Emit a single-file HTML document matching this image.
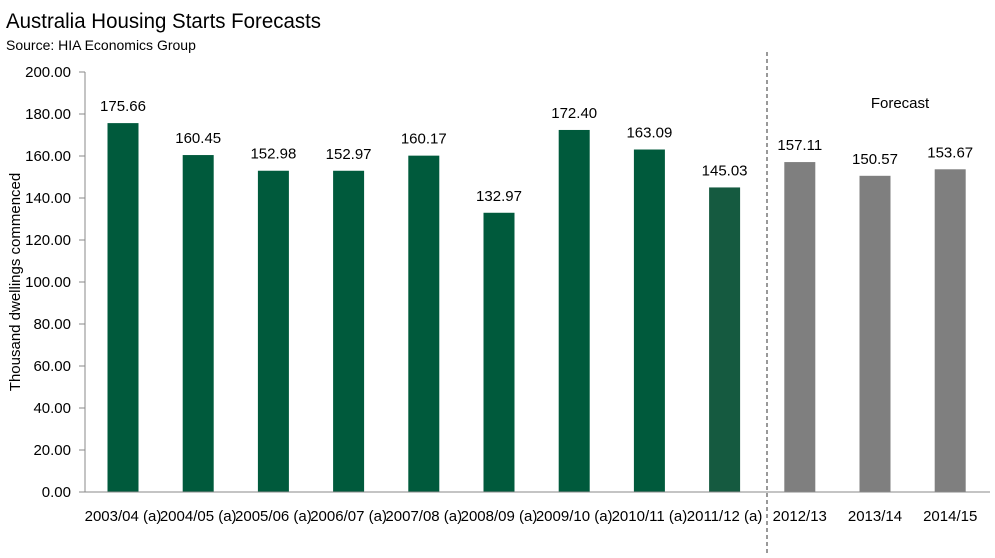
<!DOCTYPE html>
<html><head><meta charset="utf-8"><style>
body{margin:0;background:#fff;width:995px;height:553px;overflow:hidden;font-family:"Liberation Sans",Arial,sans-serif}
text{font-family:"Liberation Sans",Arial,sans-serif}
</style></head><body>
<svg id="chart" width="995" height="553">
<text x="6" y="28" font-size="21" fill="#000" textLength="315" lengthAdjust="spacingAndGlyphs">Australia Housing Starts Forecasts</text>
<text x="6" y="50" font-size="14" fill="#000">Source: HIA Economics Group</text>
<text transform="translate(20,282) rotate(-90)" text-anchor="middle" font-size="15">Thousand dwellings commenced</text>
<line x1="767" y1="52" x2="767" y2="553" stroke="#333" stroke-dasharray="4,3"/>
<text x="900" y="108" text-anchor="middle" font-size="15">Forecast</text>
<g id="g"></g>
</svg>
<script>
const categories=["2003/04 (a)","2004/05 (a)","2005/06 (a)","2006/07 (a)","2007/08 (a)","2008/09 (a)","2009/10 (a)","2010/11 (a)","2011/12 (a)","2012/13","2013/14","2014/15"];
const values=[175.66,160.45,152.98,152.97,160.17,132.97,172.40,163.09,145.03,157.11,150.57,153.67];
const isForecast=[false,false,false,false,false,false,false,false,false,true,true,true];
const yTicks=[0,20,40,60,80,100,120,140,160,180,200];
const ns="http://www.w3.org/2000/svg",g=document.getElementById('g');
const x0=85.4,band=75.2,bw=31;
const y=v=>492-v*2.1, xc=i=>x0+band*(i+0.5);
function mk(t,a){const e=document.createElementNS(ns,t);for(const k in a)e.setAttribute(k,a[k]);g.appendChild(e);return e;}
yTicks.forEach(t=>{
 const l=mk('line',{x1:79,x2:85,y1:y(t),y2:y(t),stroke:'#888'});
 
 
 const tx=mk('text',{x:71,y:y(t)+5,'text-anchor':'end','font-size':15});
 tx.textContent=t.toFixed(2);
 
 
});
values.forEach((v,i)=>{
 const col=isForecast[i]?'#7f7f7f':(i===8?'#155a40':'#005a3c');
 const r=mk('rect',{x:xc(i)-bw/2,y:y(v),width:bw,height:492-y(v),fill:col});
 
 
 const t=mk('text',{x:xc(i),y:y(v)-12,'text-anchor':'middle','font-size':15});
 t.textContent=v.toFixed(2);
 
 
 const c=mk('text',{x:xc(i),y:521,'text-anchor':'middle','font-size':15});
 c.textContent=categories[i];
 
 
});
const ax=mk('line',{x1:85,x2:85,y1:72,y2:492,stroke:'#888'});


const bx=mk('line',{x1:79,x2:990,y1:492,y2:492,stroke:'#888'});


</script>
</body></html>
